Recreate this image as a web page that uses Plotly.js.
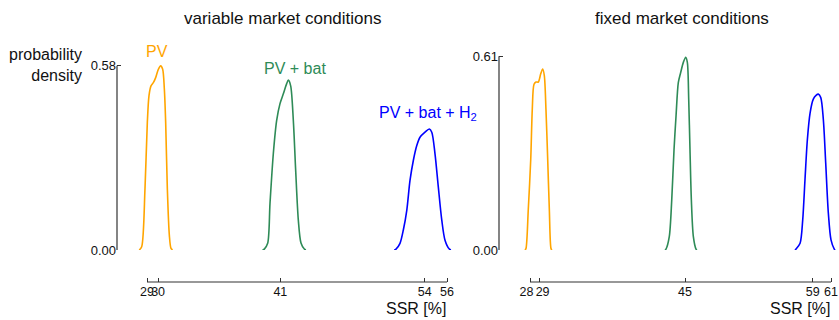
<!DOCTYPE html>
<html>
<head>
<meta charset="utf-8">
<script src="https://cdn.plot.ly/plotly-3.0.1.min.js"></script>
<style>html,body{margin:0;padding:0;background:#fff;}#chart{width:839px;height:320px;}</style>
</head>
<body>
<div id="chart"></div>
<script>
// ---- data: variable market conditions ----
var varPvX   = [28.30, 28.52, 28.82, 29.03, 29.18, 29.36, 29.57, 29.78, 30.02, 30.23, 30.41, 30.56, 30.68, 30.83, 31.01, 31.16, 31.30];
var varPvY   = [0.000, 0.010, 0.194, 0.402, 0.486, 0.517, 0.527, 0.543, 0.569, 0.580, 0.569, 0.508, 0.402, 0.194, 0.047, 0.005, 0.000];
var varBatX  = [39.40, 39.56, 39.86, 40.07, 40.37, 40.67, 40.97, 41.27, 41.57, 41.72, 41.93, 42.17, 42.38, 42.62, 42.86, 43.16, 43.30];
var varBatY  = [0.000, 0.003, 0.021, 0.147, 0.304, 0.408, 0.461, 0.492, 0.524, 0.535, 0.517, 0.408, 0.251, 0.094, 0.022, 0.003, 0.000];
var varH2X   = [51.25, 51.41, 51.77, 52.07, 52.38, 52.67, 52.97, 53.28, 53.57, 54.02, 54.41, 54.63, 54.92, 55.22, 55.53, 55.82, 56.21, 56.35];
var varH2Y   = [0.000, 0.003, 0.021, 0.063, 0.125, 0.219, 0.282, 0.329, 0.355, 0.371, 0.381, 0.371, 0.303, 0.198, 0.094, 0.031, 0.003, 0.000];
var varTicks = [29, 30, 41, 54, 56];
var varTickText = ['29', '30', '41', '54', '56'];
var varYMax  = 0.58;

// ---- data: fixed market conditions ----
var fixPvX   = [27.45, 27.56, 27.81, 28.08, 28.25, 28.44, 28.66, 28.91, 29.17, 29.39, 29.57, 29.75, 29.94, 30.12, 30.30, 30.40];
var fixPvY   = [0.000, 0.005, 0.127, 0.285, 0.443, 0.522, 0.529, 0.529, 0.554, 0.570, 0.549, 0.443, 0.285, 0.127, 0.005, 0.000];
var fixBatX  = [42.80, 42.91, 43.27, 43.54, 43.79, 44.01, 44.26, 44.52, 44.81, 45.07, 45.25, 45.40, 45.54, 45.69, 45.91, 46.20, 46.30];
var fixBatY  = [0.000, 0.003, 0.042, 0.158, 0.316, 0.422, 0.527, 0.559, 0.591, 0.607, 0.591, 0.475, 0.316, 0.158, 0.042, 0.003, 0.000];
var fixH2X   = [57.05, 57.17, 57.61, 57.90, 58.15, 58.41, 58.71, 59.06, 59.36, 59.61, 59.88, 60.16, 60.42, 60.71, 61.00, 61.36, 61.45];
var fixH2Y   = [0.000, 0.003, 0.021, 0.095, 0.222, 0.348, 0.432, 0.475, 0.487, 0.491, 0.480, 0.411, 0.274, 0.116, 0.032, 0.003, 0.000];
var fixTicks = [28, 29, 45, 59, 61];
var fixTickText = ['28\u00a0\u00a0', '\u00a0\u00a029', '45', '59', '61'];
var fixYMax  = 0.61;

var seriesNames = ['PV', 'PV + bat', 'PV + bat + H<sub>2</sub>'];
var colors = ['#FFA500', '#2E8B57', '#0000FF'];

var W = 839, H = 320;
var xAxisPos = (H - 282) / H;
var yDomain = [(H - 250) / H, (H - 50) / H];
var yRange = [0, 200 / 317.5];

function tr(x, y, c, xa, ya) {
  return {x: x, y: y, type: 'scatter', mode: 'lines', xaxis: xa, yaxis: ya,
          line: {color: c, width: 1.6, shape: 'spline', smoothing: 0.8},
          hoverinfo: 'skip', showlegend: false};
}
var data = [
  tr(varPvX, varPvY, colors[0], 'x', 'y'),
  tr(varBatX, varBatY, colors[1], 'x', 'y'),
  tr(varH2X, varH2Y, colors[2], 'x', 'y'),
  tr(fixPvX, fixPvY, colors[0], 'x2', 'y2'),
  tr(fixBatX, fixBatY, colors[1], 'x2', 'y2'),
  tr(fixH2X, fixH2Y, colors[2], 'x2', 'y2')
];

var fam = 'Liberation Sans, Arial, sans-serif';
var xTickFont = {family: fam, size: 12.5, color: '#111'};
var yTickFont = {family: fam, size: 13, color: '#111'};
var xL0 = 117, xR0 = 499;
var pxL = 300 / 27, pxR = 301 / 33;
var xLRange = [29 - (147 - xL0) / pxL, 29 + (455 - 147) / pxL];
var xRRange = [28 - (530 - xR0) / pxR, 28 + (839 - 530) / pxR];

function xax(dom, rng, ticks, text) {
  return {domain: dom, range: rng, anchor: 'free', position: xAxisPos,
          tickmode: 'array', tickvals: ticks, ticktext: text,
          ticks: 'inside', ticklen: 4, tickwidth: 1, tickcolor: '#333', tickangle: 0,
          showline: false, showgrid: false, zeroline: false, tickfont: xTickFont, fixedrange: true};
}
function yax(anchor, ymax) {
  return {domain: yDomain, range: yRange, anchor: anchor,
          tickmode: 'array', tickvals: [0, ymax], ticktext: ['0.00', ymax.toFixed(2)],
          ticks: 'inside', ticklen: 4, tickwidth: 1, tickcolor: '#333',
          showline: false, showgrid: false, zeroline: false, tickfont: yTickFont, fixedrange: true};
}

var lineStyle = {color: '#333', width: 1.2};
var shapes = [
  {type: 'line', xref: 'x', yref: 'paper', x0: varTicks[0], x1: varTicks[varTicks.length - 1], y0: xAxisPos, y1: xAxisPos, line: lineStyle},
  {type: 'line', xref: 'x2', yref: 'paper', x0: fixTicks[0], x1: fixTicks[fixTicks.length - 1], y0: xAxisPos, y1: xAxisPos, line: lineStyle},
  {type: 'line', xref: 'paper', yref: 'y', x0: xL0 / W, x1: xL0 / W, y0: 0, y1: varYMax, line: lineStyle},
  {type: 'line', xref: 'paper', yref: 'y2', x0: xR0 / W, x1: xR0 / W, y0: 0, y1: fixYMax, line: lineStyle}
];

function ann(text, px, py, size, color, xanchor, extra) {
  var a = {text: text, xref: 'paper', yref: 'paper', x: px / W, y: (H - py) / H,
           xanchor: xanchor || 'center', yanchor: 'middle', showarrow: false,
           font: {family: fam, size: size, color: color}};
  if (extra) for (var k in extra) a[k] = extra[k];
  return a;
}
var annotations = [
  ann('variable market conditions', 282, 18, 17, '#111'),
  ann('fixed market conditions', 682, 18, 17, '#111'),
  ann('probability<br>density', 84, 65, 16, '#111', 'right', {align: 'right'}),
  ann('SSR [%]', 448, 308, 16, '#111', 'right'),
  ann('SSR [%]', 832, 308, 16, '#111', 'right'),
  ann(seriesNames[0], 157, 52, 16, colors[0]),
  ann(seriesNames[1], 295, 69, 16, colors[1]),
  ann(seriesNames[2], 428, 114, 16, colors[2])
];

var layout = {
  width: W, height: H, margin: {l: 0, r: 0, t: 0, b: 0},
  paper_bgcolor: '#fff', plot_bgcolor: 'rgba(0,0,0,0)',
  xaxis: xax([xL0 / W, 455 / W], xLRange, varTicks, varTickText),
  yaxis: yax('x', varYMax),
  xaxis2: xax([xR0 / W, 1], xRRange, fixTicks, fixTickText),
  yaxis2: yax('x2', fixYMax),
  shapes: shapes, annotations: annotations, showlegend: false,
  font: {family: fam}
};
Plotly.newPlot('chart', data, layout, {staticPlot: true, displayModeBar: false});
</script>
</body>
</html>
